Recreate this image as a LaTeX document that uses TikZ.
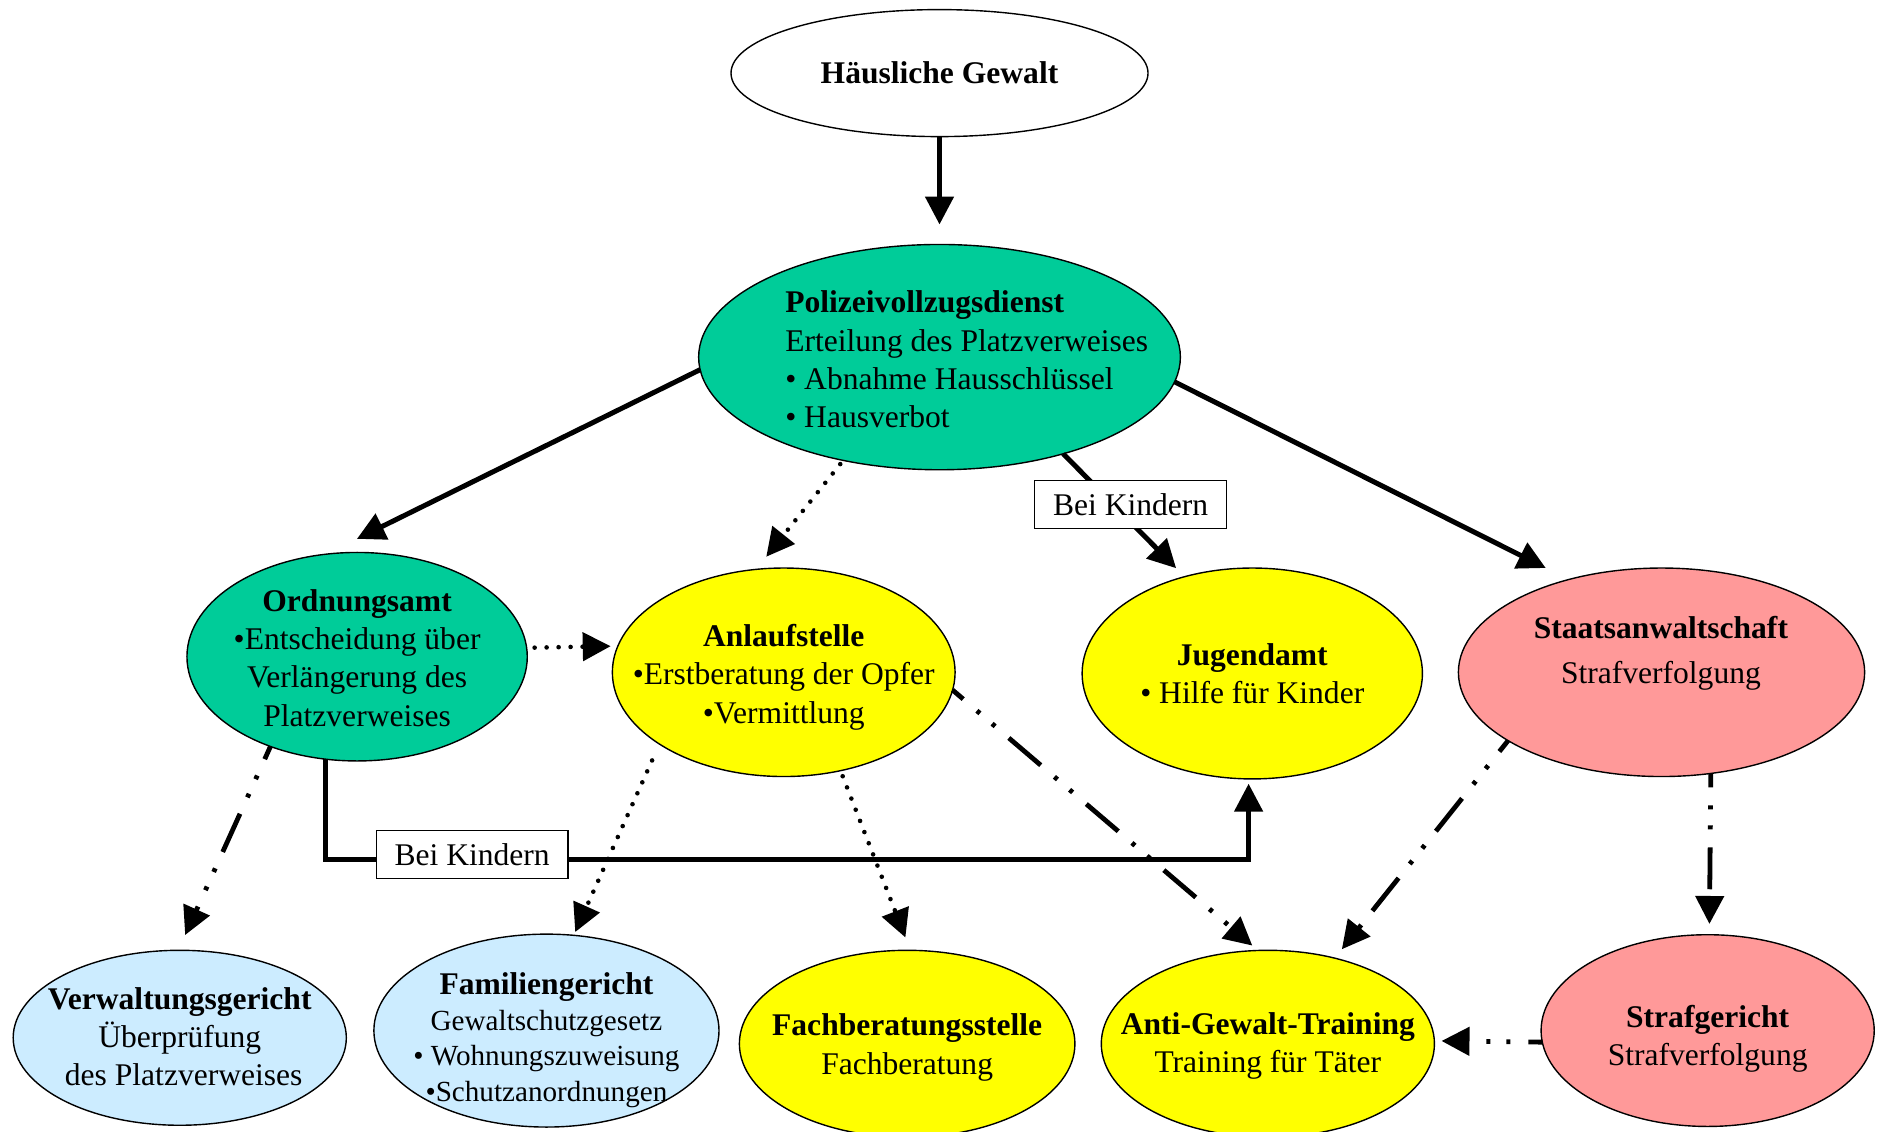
\documentclass[tikz,border=0pt]{standalone}
\usepackage{fontspec}
\setmainfont{Liberation Serif}
\usetikzlibrary{shapes.geometric,arrows.meta}
\definecolor{cteal}{RGB}{0,204,153}
\definecolor{cyel}{RGB}{255,255,0}
\definecolor{csalmon}{RGB}{255,153,153}
\definecolor{cblue}{RGB}{204,236,255}
\begin{document}
\begin{tikzpicture}[x=0.6pt,y=-0.6pt,
  ell/.style 2 args={ellipse, draw=black, line width=0.7pt, minimum width=#1*1.2pt, minimum height=#2*1.2pt, inner sep=0pt, outer sep=0pt},
  txt/.style={align=center, inner sep=0pt, font=\fontsize{15.8}{19.2}\selectfont},
  smalltxt/.style={align=center, inner sep=0pt, font=\fontsize{14.6}{18}\selectfont},
  lbl/.style={draw=black, fill=white, line width=0.7pt, minimum width=96pt, minimum height=24pt, inner sep=0pt, font=\fontsize{15.8}{19.2}\selectfont},
  tip/.style={-{Triangle[length=14pt,width=14pt]}},
  sarr/.style={tip, line width=2.5pt},
  darr/.style={tip, line width=2.3pt, line cap=round, dash pattern=on 0pt off 6pt},
  ddarr/.style={tip, line width=2.4pt, dash pattern=on 21pt off 9pt on 2pt off 8pt on 2pt off 9pt, dash phase=14pt}
]
\useasboundingbox (0,0) rectangle (1568,944);
\clip (0,0) rectangle (1568,944);

% ellipses
\node[ell={174}{53}, fill=white] (hg) at (784,61) {};
\node[ell={201}{94}, fill=cteal] (pol) at (784,298) {};
\node[ell={142}{87}, fill=cteal] (ord) at (298,548) {};
\node[ell={143}{87}, fill=cyel] (anl) at (654,561) {};
\node[ell={142}{88}, fill=cyel] (jug) at (1045,562) {};
\node[ell={169.5}{87}, fill=csalmon] (sta) at (1386.5,561) {};
\node[ell={139}{73}, fill=cblue] (ver) at (150,866) {};
\node[ell={144}{80.5}, fill=cblue] (fam) at (456,860) {};
\node[ell={140}{78}, fill=cyel] (fach) at (757,871) {};
\node[ell={139}{78}, fill=cyel] (anti) at (1058,871) {};
\node[ell={139}{80}, fill=csalmon] (str) at (1425,860) {};

% texts
\node[txt] (hg-t) at (784,61) {\textbf{Häusliche Gewalt}};
\node[txt, align=left, anchor=west] (pol-t) at (655,300) {\textbf{Polizeivollzugsdienst}\\Erteilung des Platzverweises\\• Abnahme Hausschlüssel\\• Hausverbot};
\node[txt] (ord-t) at (298,549) {\textbf{Ordnungsamt}\\•Entscheidung über\\Verlängerung des\\Platzverweises};
\node[txt] (anl-t) at (654,565) {\textbf{Anlaufstelle}\\•Erstberatung der Opfer\\•Vermittlung};
\node[txt] (jug-t) at (1045,562) {\textbf{Jugendamt}\\• Hilfe für Kinder};
\node[txt] (sta-t) at (1386,545) {\textbf{Staatsanwaltschaft}\\[3.6pt]Strafverfolgung};
\node[txt] (ver-t) at (150,865) {\textbf{Verwaltungsgericht}\\Überprüfung\\\hspace*{0.25em}des Platzverweises};
\node[smalltxt] (fam-t) at (456,868) {{\fontsize{15.8}{19.2}\selectfont\textbf{Familiengericht}}\\Gewaltschutzgesetz\\• Wohnungszuweisung\\•Schutzanordnungen};
\node[txt] (fach-t) at (757,874) {\textbf{Fachberatungsstelle}\\Fachberatung};
\node[txt] (anti-t) at (1058,873) {\textbf{Anti-Gewalt-Training}\\Training für Täter};
\node[txt] (str-t) at (1425,867) {\textbf{Strafgericht}\\Strafverfolgung};

% connectors
\coordinate (kb) at (0,717);
\draw[sarr, shorten >=10pt] (hg.south) -- (pol.north);
\draw[sarr, shorten >=17.4pt] (pol.183) -- (ord.107);
\draw[darr, shorten <=2.4pt, shorten >=8.1pt] (pol.227) -- (anl.105);
\draw[sarr, shorten >=6pt] (pol.322) -- (jug.125);
\draw[sarr, shorten >=12.9pt] (pol.354) -- (sta.135);
\draw[darr, shorten <=4pt, shorten >=3.6pt] (ord.3) -- (anl.171);
\draw[ddarr, shorten >=8.4pt] (ord.226) -- (ver.91);
\draw[sarr, shorten >=2.4pt] (ord.253) |- (jug.268 |- kb) -- (jug.268);
\draw[darr, shorten <=9pt, shorten >=1.8pt] (anl.210) -- (fam.74);
\draw[darr, shorten <=3pt, shorten >=6.9pt] (anl.300) -- (fach.88);
\draw[ddarr, shorten >=3.8pt] (anl.354) -- (anti.96);
\draw[ddarr, shorten >=5.7pt] (sta.204) -- (anti.52);
\draw[ddarr, shorten >=5.4pt] (sta.296) -- (str.89);
\draw[ddarr, shorten >=3.6pt] (str.184) -- (anti.1);

% labels
\node[lbl] (k1) at (943.5,421) {Bei Kindern};
\node[lbl] (k2) at (394,713) {Bei Kindern};
\end{tikzpicture}
\end{document}
